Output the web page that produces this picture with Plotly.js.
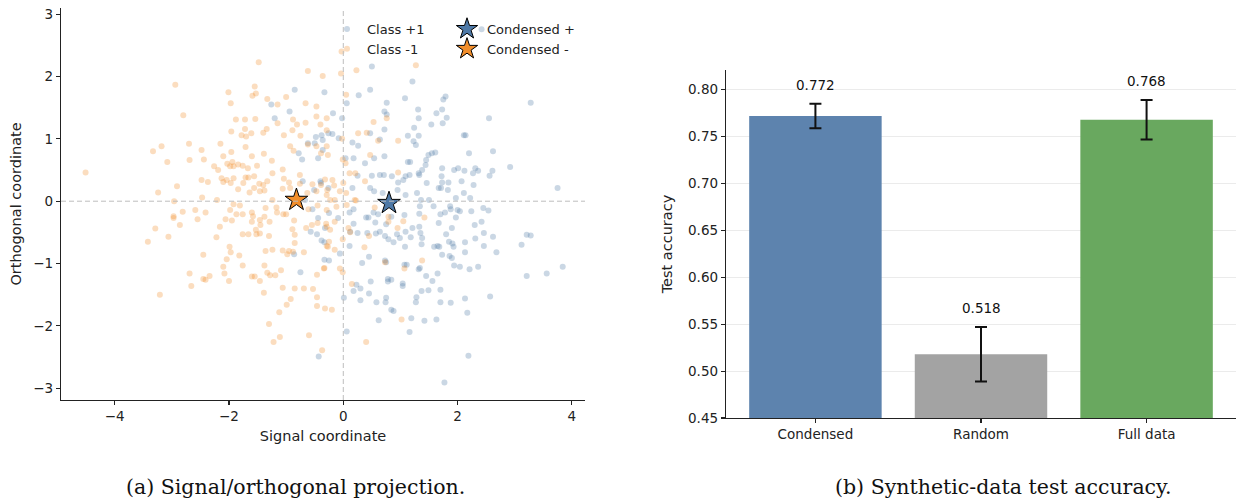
<!DOCTYPE html>
<html>
<head>
<meta charset="utf-8">
<script src="https://cdn.plot.ly/plotly-3.0.1.min.js"></script>
<style>html,body{margin:0;padding:0;background:#fff;}#chart{width:1236px;height:498px;}</style>
</head>
<body>
<div id="chart"></div>
<script>
// ---- Panel (a): projected points ----
const classPosX = [-0.85,-0.33,-1.26,-0.94,-1.20,-0.48,-0.36,-0.62,-0.50,-0.78,-0.72,-0.44,-0.36,-0.26,-0.71,-0.51,-0.40,-0.67,
2.42,0.50,1.21,0.47,0.27,1.08,1.79,1.75,0.76,0.06,3.28,1.31,1.63,1.73,0.72,0.76,-0.18,-0.02,1.32,1.81,2.55,1.54,1.74,1.24,0.72,-0.38,-0.08,-0.19,0.16,0.26,0.47,0.64,1.13,1.32,1.27,1.23,1.55,1.61,1.49,2.11,2.14,2.20,2.62,2.92,3.75,0.04,0.18,0.38,0.54,0.72,1.17,1.13,1.45,1.44,1.38,1.32,1.73,1.72,1.73,1.94,2.01,2.12,2.27,2.31,2.36,2.61,2.56,1.09,1.16,1.33,0.25,0.50,0.64,0.71,0.85,0.96,1.05,1.46,1.67,1.71,1.83,2.07,2.28,1.84,0.47,0.54,0.69,0.95,0.16,-0.26,-0.39,2.11,2.22,1.97,1.29,1.36,1.09,1.50,
-0.54,-0.44,-0.57,-0.46,-0.32,-0.38,-0.33,-0.33,-0.86,-0.75,-0.43,-0.25,
0.11,0.18,-0.09,0.40,0.44,0.53,0.61,0.56,0.75,0.84,1.07,1.33,1.34,1.58,1.70,1.78,1.87,1.88,2.00,2.04,2.24,2.45,2.54,1.97,1.67,1.90,2.30,2.42,0.42,0.57,0.64,0.73,0.79,0.94,0.99,1.09,1.18,1.35,1.38,1.21,1.33,1.80,1.85,1.91,1.93,2.13,2.31,2.46,2.62,2.46,2.68,3.12,3.21,3.28,3.84,3.56,3.21,-0.06,0.11,0.33,0.45,0.73,0.75,1.07,1.11,1.32,1.34,1.45,1.56,1.65,1.59,1.65,1.68,1.73,1.86,1.90,1.94,2.04,2.13,2.21,2.36,2.57,2.13,2.17,2.19,1.77,0.23,0.18,0.30,0.48,0.45,0.30,0.58,0.74,0.75,0.78,0.78,0.84,1.04,1.04,0.84,0.88,0.62,1.19,1.16,1.42,1.63,1.28,1.27,1.37,1.49,1.70,1.70,1.88,0.01,0.06,1.37,1.08,0.88,0.25,0.12,-0.25,0.18];
const classPosY = [1.79,1.75,1.55,1.44,1.33,1.03,0.98,0.93,0.93,0.77,0.67,0.69,0.82,1.09,0.32,0.18,0.32,0.02,
2.76,2.16,1.92,1.79,1.70,1.65,1.68,1.63,1.58,1.57,1.58,1.47,1.41,1.47,1.44,1.39,1.41,1.33,1.33,1.34,1.33,1.23,1.25,1.18,1.15,1.06,1.01,1.08,0.94,0.89,1.09,0.99,1.05,1.05,0.90,0.96,0.77,0.78,0.74,1.06,1.06,0.77,0.80,0.55,0.21,0.69,0.69,0.61,0.69,0.72,0.63,0.63,0.66,0.58,0.50,0.45,0.53,0.40,0.30,0.50,0.53,0.49,0.45,0.53,0.49,0.49,0.41,0.40,0.42,0.42,0.41,0.41,0.42,0.42,0.40,0.30,0.34,0.29,0.21,0.21,0.18,0.32,0.26,0.30,0.21,0.16,0.13,0.18,0.21,0.21,0.29,0.13,0.05,0.05,0.13,0.02,0.10,0.02,
-0.13,-0.27,-0.49,-0.53,-0.43,-0.63,-0.66,-0.94,-0.85,-1.14,-2.49,-0.19,
-0.18,-0.13,-0.27,-0.26,-0.26,-0.18,-0.21,-0.34,-0.37,-0.25,-0.22,-0.20,-0.08,-0.08,-0.21,-0.18,-0.08,-0.13,-0.14,-0.16,-0.16,-0.11,-0.15,-0.26,-0.35,-0.43,-0.38,-0.33,-0.51,-0.52,-0.49,-0.56,-0.61,-0.53,-0.59,-0.49,-0.58,-0.51,-0.59,-0.43,-0.41,-0.53,-0.65,-0.68,-0.73,-0.66,-0.60,-0.51,-0.57,-0.72,-0.82,-0.70,-0.54,-0.55,-1.05,-1.16,-1.20,-0.84,-0.72,-0.99,-0.89,-0.95,-0.98,-1.02,-1.02,-1.09,-1.07,-1.20,-1.28,-1.16,-0.73,-0.72,-0.73,-0.86,-0.88,-0.91,-1.03,-1.05,-0.82,-1.09,-1.05,-1.53,-1.56,-1.79,-2.48,-2.91,-1.34,-1.44,-1.40,-1.29,-1.48,-1.59,-1.62,-1.62,-1.55,-1.25,-1.29,-1.26,-1.32,-1.36,-1.74,-1.76,-1.91,-1.88,-2.10,-1.92,-1.90,-1.54,-1.62,-1.44,-1.43,-1.42,-1.62,-1.63,-1.55,-2.09,-0.69,-0.73,-0.66,-0.51,-0.49,-0.95,-0.36];

const classNegX = [-1.48,-0.62,-0.36,-2.94,-1.55,-2.01,-1.59,-1.53,-1.33,-1.97,-1.00,-1.15,-2.80,-1.88,-1.72,-1.54,-1.72,-1.96,-1.78,-1.70,-1.61,-1.40,-1.34,-1.15,-0.89,-1.04,-0.88,-0.81,-0.75,-0.66,-0.47,-0.40,-0.29,-0.62,-0.93,-0.87,-0.47,-0.39,-0.29,-0.27,-3.33,-3.18,-3.08,-2.70,-2.69,-2.48,-2.44,-2.15,-2.10,-1.96,-1.71,-1.60,-1.39,-1.25,-2.26,-2.19,-2.03,-1.98,-1.94,-1.92,-1.84,-1.76,-1.67,-1.51,-2.48,-2.37,-2.13,-2.10,-2.04,-1.92,-1.97,-1.75,-1.71,-1.66,-1.56,-1.47,-1.40,-1.33,-1.24,-1.06,-1.04,-0.95,-0.76,-2.91,-3.24,-2.47,-2.21,-1.84,-1.64,-1.56,-1.46,-1.38,-1.24,-1.06,-0.93,-0.76,-0.63,-0.54,-0.47,-0.39,-0.32,-0.28,-4.51,-2.96,-0.66,-0.47,-0.29,
-0.03,1.27,0.23,-0.04,0.05,0.76,0.53,0.26,0.41,0.96,0.61,-0.02,0.47,-0.01,0.04,0.11,0.21,0.38,0.96,0.00,-0.19,-0.16,-0.29,-0.06,0.05,0.20,-0.23,-0.15,
-2.97,-2.97,-2.81,-2.59,-2.41,-3.29,-3.42,-3.06,-2.86,-2.55,-2.22,-2.16,-2.06,-1.98,-1.95,-1.92,-1.87,-1.81,-1.76,-1.76,-1.66,-1.60,-1.58,-1.60,-1.53,-1.52,-1.46,-1.45,-1.46,-1.38,-1.36,-1.30,-1.29,-1.17,-1.16,-1.05,-1.00,-0.89,-0.86,-0.85,-0.85,-0.65,-0.61,-0.55,-0.45,-0.45,-0.29,-0.29,-0.27,-1.99,-1.97,-2.45,-2.04,-1.82,-1.76,-1.36,-1.38,-1.24,-1.06,-0.98,-0.95,-0.88,-0.69,-0.34,-2.69,-2.45,-2.41,-2.34,-2.66,-2.10,-2.08,-2.00,-1.60,-1.55,-1.46,-1.33,-1.28,-1.19,-1.09,-1.06,-0.85,-0.69,-0.53,-0.46,-0.46,-3.21,-1.39,-0.92,-0.99,-1.12,-1.30,-1.11,-1.22,-0.60,-0.37,-0.32,-0.46,
-0.12,0.06,0.22,0.55,0.79,0.79,0.95,1.05,1.42,-0.30,-0.23,-0.15,0.09,0.12,-0.01,-0.25,-0.15,-0.29,0.37,0.45,0.73,1.38,1.07,-0.33,-0.06,-0.01,0.15,-0.20,1.02,0.40];
const classNegY = [2.23,2.09,2.01,1.87,1.84,1.75,1.69,1.73,1.64,1.57,1.67,1.55,1.38,1.31,1.31,1.32,1.16,1.12,1.06,1.04,1.09,1.10,1.16,1.25,1.14,1.06,1.31,1.23,1.05,1.26,1.36,1.23,1.33,0.91,0.88,0.81,0.88,0.77,0.88,0.74,0.80,0.88,0.63,0.92,0.66,0.82,0.67,0.92,0.72,0.79,0.87,0.72,0.76,0.65,0.56,0.50,0.60,0.56,0.63,0.56,0.59,0.57,0.53,0.57,0.34,0.31,0.37,0.31,0.34,0.37,0.29,0.29,0.38,0.38,0.40,0.28,0.26,0.32,0.45,0.51,0.36,0.30,0.42,0.24,0.14,0.06,0.02,0.19,0.14,0.21,0.16,0.17,0.02,0.20,0.21,0.28,0.13,0.27,0.16,0.26,0.35,0.18,0.46,0.00,1.57,1.52,1.14,
2.40,2.18,2.10,2.05,1.71,1.33,1.27,1.09,1.10,0.97,0.97,1.00,0.74,0.67,0.61,0.45,0.45,0.32,0.46,0.29,0.34,0.25,0.10,0.16,0.13,0.02,0.02,0.02,
-0.24,-0.27,-0.17,-0.14,-0.18,-0.44,-0.65,-0.57,-0.38,-0.29,-0.58,-0.41,-0.29,-0.14,-0.31,-0.05,-0.21,-0.07,-0.21,-0.53,-0.53,-0.18,-0.24,-0.33,-0.46,-0.53,-0.52,-0.38,-0.30,-0.25,-0.11,-0.56,-0.33,-0.10,-0.18,-0.21,-0.21,-0.45,-0.31,-0.54,-0.67,-0.43,-0.13,-0.38,-0.07,-0.35,-0.41,-0.14,-0.73,-0.73,-0.82,-0.86,-0.93,-0.87,-1.03,-0.80,-1.03,-0.78,-0.79,-0.85,-0.80,-0.81,-0.82,-1.08,-1.16,-1.25,-1.26,-1.20,-1.36,-1.05,-1.16,-1.28,-1.21,-1.21,-1.28,-1.15,-1.19,-1.19,-1.11,-1.39,-1.40,-1.40,-1.41,-1.54,-1.18,-1.50,-1.47,-1.57,-1.66,-1.78,-1.97,-2.18,-2.26,-2.15,-2.39,-1.72,-1.68,
-0.09,-0.06,0.01,-0.10,-0.25,-0.33,-0.43,-0.32,-0.26,-0.36,-0.46,-0.33,-0.43,-0.50,-0.61,-0.65,-0.78,-0.72,-0.74,-0.56,-0.98,-0.95,-1.08,-1.07,-1.08,-1.14,-1.33,-1.74,-1.90,-2.26];

const condensedPos = {x: [0.80], y: [-0.03]};
const condensedNeg = {x: [-0.82], y: [0.02]};

// ---- Panel (b): test accuracy ----
const methods = ["Condensed", "Random", "Full data"];
const accuracy = [0.772, 0.518, 0.768];
const accErr = [0.013, 0.029, 0.021];
const barColors = ["#5d83ae", "#a3a3a3", "#69a85f"];

const FONT = "DejaVu Sans";
const traces = [
  {type:"scatter", mode:"markers", x:classPosX, y:classPosY, name:"Class +1",
   marker:{size:6, color:"rgba(78,121,167,0.3)", line:{width:0}}, xaxis:"x", yaxis:"y", legend:"legend"},
  {type:"scatter", mode:"markers", x:classNegX, y:classNegY, name:"Class -1",
   marker:{size:6, color:"rgba(242,142,43,0.3)", line:{width:0}}, xaxis:"x", yaxis:"y", legend:"legend"},
  {type:"scatter", mode:"markers", x:condensedPos.x, y:condensedPos.y, name:"Condensed +",
   marker:{symbol:"star", size:17, color:"#4e79a7", line:{width:1, color:"#000"}}, xaxis:"x", yaxis:"y", legend:"legend2"},
  {type:"scatter", mode:"markers", x:condensedNeg.x, y:condensedNeg.y, name:"Condensed -",
   marker:{symbol:"star", size:17, color:"#f28e2b", line:{width:1, color:"#000"}}, xaxis:"x", yaxis:"y", legend:"legend2"},
  {type:"bar", x:methods, y:accuracy, marker:{color:barColors}, width:0.8, showlegend:false,
   error_y:{type:"data", array:accErr, visible:true, color:"#111", thickness:2, width:6},
   xaxis:"x2", yaxis:"y2"}
];

const annotations = methods.map((m,i)=>({
  xref:"x2", yref:"y2", x:m, y:accuracy[i]+accErr[i], text:accuracy[i].toFixed(3),
  showarrow:false, yanchor:"bottom", yshift:9, font:{family:FONT, size:13.5, color:"#111"}
}));
annotations.push({xref:"paper", yref:"paper", x:295/1236, y:1-487/498, text:"(a) Signal/orthogonal projection.",
  showarrow:false, xanchor:"center", yanchor:"middle", font:{family:"DejaVu Serif", size:20.5, color:"#111"}});
annotations.push({xref:"paper", yref:"paper", x:1003/1236, y:1-487/498, text:"(b) Synthetic-data test accuracy.",
  showarrow:false, xanchor:"center", yanchor:"middle", font:{family:"DejaVu Serif", size:20.5, color:"#111"}});

const axisCommon = {showline:true, linecolor:"#222", linewidth:1.2, ticks:"outside", ticklen:4, tickwidth:1.1,
  tickcolor:"#222", zeroline:false, tickfont:{family:FONT, size:13.5, color:"#222"}};

const layout = {
  width:1236, height:498, margin:{l:0,r:0,t:0,b:0}, paper_bgcolor:"#fff", plot_bgcolor:"#fff",
  font:{family:FONT, color:"#222"},
  xaxis: Object.assign({}, axisCommon, {domain:[61/1236, 585/1236], range:[-4.94,4.23], tickvals:[-4,-2,0,2,4],
    showgrid:false, anchor:"y", title:{text:"Signal coordinate", font:{family:FONT, size:14.5, color:"#222"}, standoff:7}}),
  yaxis: Object.assign({}, axisCommon, {domain:[1-400/498, 1-8/498], range:[-3.19,3.10], dtick:1,
    showgrid:false, anchor:"x", title:{text:"Orthogonal coordinate", font:{family:FONT, size:14.5, color:"#222"}, standoff:8}}),
  xaxis2: Object.assign({}, axisCommon, {domain:[726/1236, 1], range:[-0.54,2.54], type:"category",
    showgrid:false, anchor:"y2"}),
  yaxis2: Object.assign({}, axisCommon, {domain:[1-418/498, 1-70/498], range:[0.45,0.821], dtick:0.05, tick0:0.45,
    tickformat:".2f", showgrid:true, gridcolor:"#ebebeb", gridwidth:1, anchor:"x2",
    title:{text:"Test accuracy", font:{family:FONT, size:14.5, color:"#222"}, standoff:12}}),
  shapes:[
    {type:"line", xref:"x", yref:"y domain", x0:0, x1:0, y0:0, y1:1, line:{color:"#bdbdbd", width:1, dash:"5px,3px"}, layer:"above"},
    {type:"line", xref:"x domain", yref:"y", x0:0, x1:1, y0:0, y1:0, line:{color:"#bdbdbd", width:1, dash:"5px,3px"}, layer:"above"}
  ],
  legend:{x:327/1236, y:1-14/498, xanchor:"left", yanchor:"top", bgcolor:"rgba(0,0,0,0)",
    font:{family:FONT, size:13, color:"#222"}, tracegroupgap:0},
  legend2:{x:447/1236, y:1-14/498, xanchor:"left", yanchor:"top", bgcolor:"rgba(0,0,0,0)",
    font:{family:FONT, size:13, color:"#222"}, tracegroupgap:0},
  annotations: annotations,
  bargap:0.2
};

Plotly.newPlot("chart", traces, layout, {displayModeBar:false, staticPlot:true});
</script>
</body>
</html>
